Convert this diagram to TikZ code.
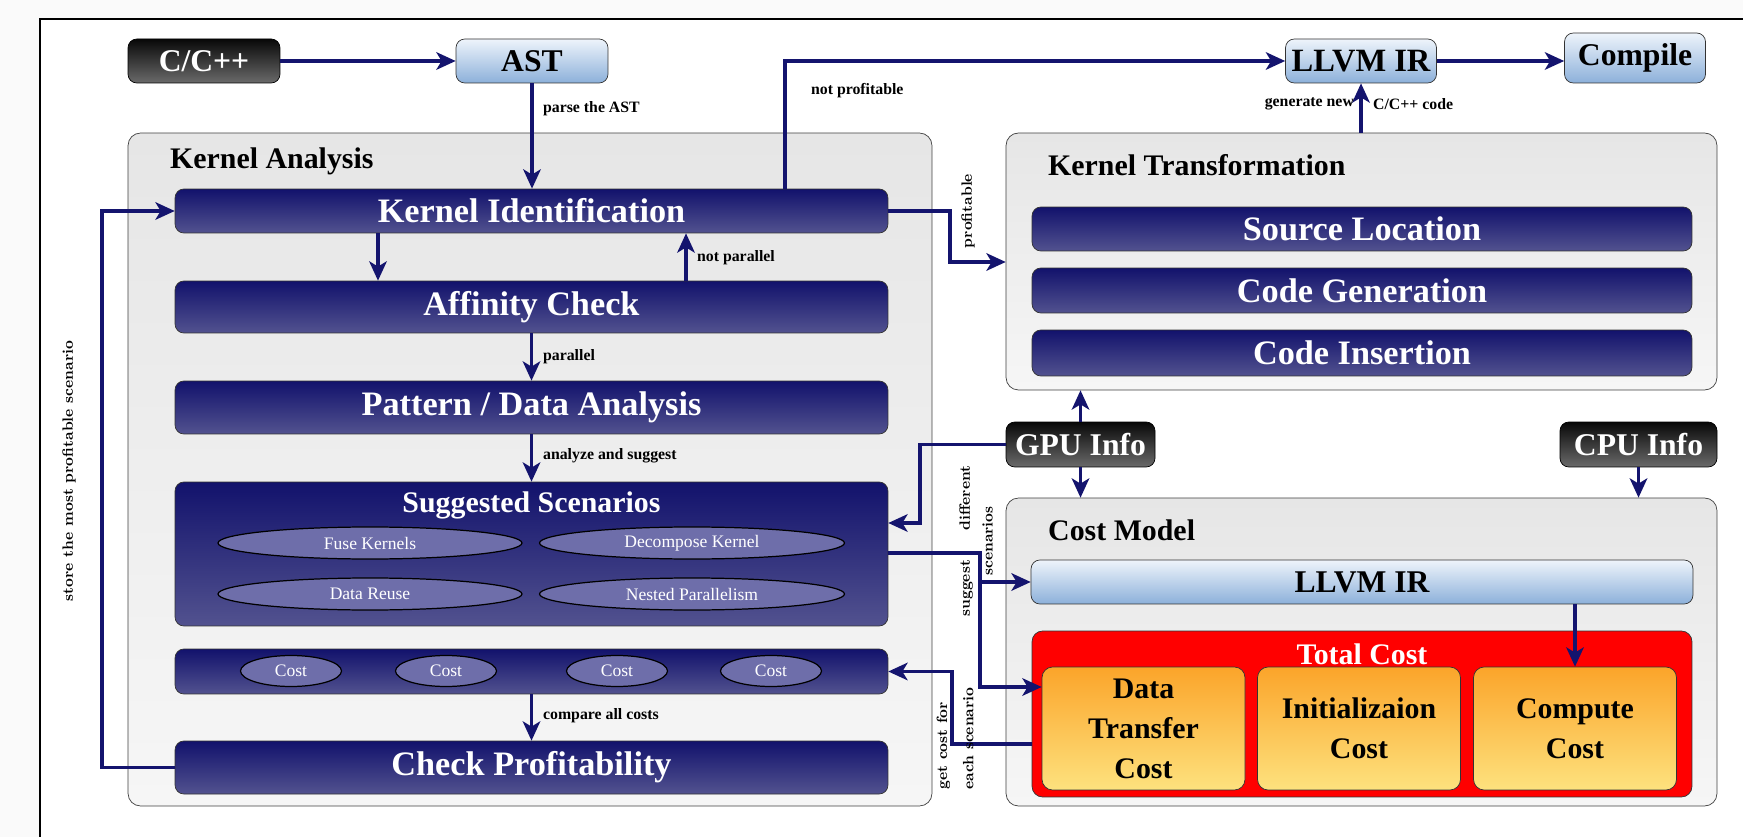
\documentclass[tikz,border=0pt]{standalone}
\usepackage{fontspec}
\usetikzlibrary{arrows.meta,shapes.geometric}
\newfontfamily\libfont{Liberation Serif}

\definecolor{navyT}{HTML}{12126C}
\definecolor{navyB}{HTML}{52528F}
\definecolor{arrowblue}{HTML}{14146E}
\definecolor{skyT}{HTML}{EEF4FB}
\definecolor{skyB}{HTML}{8CB0DA}
\definecolor{darkT}{HTML}{080808}
\definecolor{darkB}{HTML}{6A6A6A}
\definecolor{paneT}{HTML}{E6E6E6}
\definecolor{paneB}{HTML}{F6F6F6}
\definecolor{optfill}{HTML}{6E6EAA}
\definecolor{orangeT}{HTML}{FBA42A}
\definecolor{orangeB}{HTML}{FDE27E}

\tikzset{
  pane/.style={draw=black!75, rounded corners=7pt, top color=paneT, bottom color=paneB, inner sep=0pt},
  bar/.style={draw=black!80, rounded corners=5pt, top color=navyT, bottom color=navyB,
    text=white, inner sep=0pt, font=\libfont\bfseries\fontsize{19.5}{22}\selectfont},
  sky/.style={draw=black!80, rounded corners=5pt, top color=skyT, bottom color=skyB,
    inner sep=0pt, font=\libfont\bfseries\fontsize{18}{20}\selectfont},
  dark/.style={draw=black, rounded corners=5pt, top color=darkT, bottom color=darkB,
    text=white, inner sep=0pt, font=\libfont\bfseries\fontsize{18}{20}\selectfont},
  opt/.style={ellipse, draw=black, line width=0.7pt, fill=optfill, text=white, inner sep=0pt,
    font=\libfont\fontsize{10}{12}\selectfont},
  costpart/.style={draw=black!80, rounded corners=6pt, top color=orangeT, bottom color=orangeB,
    inner sep=0pt, align=center, minimum width=4.06cm, minimum height=2.46cm,
    font=\libfont\bfseries\fontsize{17}{22.7}\selectfont},
  title/.style={anchor=west, font=\libfont\bfseries\fontsize{17}{19}\selectfont},
  lbl/.style={font=\libfont\bfseries\fontsize{9}{11}\selectfont, inner sep=1pt},
  vlbl/.style={rotate=90, align=center, font=\bfseries\fontsize{8.5}{13}\selectfont, inner sep=0pt},
  arr/.style={arrowblue, line width=1.8pt, -{Stealth[length=11pt,width=10pt,inset=3pt]}}
}

\begin{document}
\begin{tikzpicture}[x=0.02cm, y=-0.02cm]
\useasboundingbox (0,0) rectangle (1743,837);
\clip (0,0) rectangle (1743,837);
\fill[gray!4] (0,0) rectangle (1743,837);
\draw[fill=white, line width=0.7pt] (40,19) rectangle (1780,880);

% top row
\node[dark, minimum width=3.04cm, minimum height=0.88cm] (cpp) at (204,61) {C/C++};
\node[sky, minimum width=3.04cm, minimum height=0.88cm] (ast) at (532,61) {AST};
\node[sky, minimum width=3.02cm, minimum height=0.88cm, font=\libfont\bfseries\fontsize{18.5}{20}\selectfont] (llvm) at (1361,61) {LLVM IR};
\node[sky, minimum width=2.82cm, minimum height=1.0cm] (compile) at (1635,58) {Compile};

% panes
\node[pane, minimum width=16.08cm, minimum height=13.46cm] (ka) at (530,469.5) {};
\node[pane, minimum width=14.22cm, minimum height=5.14cm] (kt) at (1361.5,261.5) {};
\node[pane, minimum width=14.22cm, minimum height=6.16cm] (cm) at (1361.5,652) {};
\node[title] (kat) at (164,161) {Kernel Analysis};
\node[title] (ktt) at (1042,165) {Kernel Transformation};
\node[title] (cmt) at (1042,530) {Cost Model};

% kernel analysis
\node[bar, minimum width=14.26cm, minimum height=0.88cm] (kid) at (531.5,211) {Kernel Identification};
\node[bar, minimum width=14.26cm, minimum height=1.04cm] (aff) at (531.5,307) {Affinity Check};
\node[bar, minimum width=14.26cm, minimum height=1.06cm] (pda) at (531.5,407.5) {Pattern / Data Analysis};
\node[bar, minimum width=14.26cm, minimum height=2.88cm] (sugg) at (531.5,554) {};
\node[bar, minimum width=14.26cm, minimum height=0.9cm] (costbar) at (531.5,671.5) {};
\node[bar, minimum width=14.26cm, minimum height=1.06cm] (chk) at (531.5,767.5) {Check Profitability};
\node[text=white, font=\libfont\bfseries\fontsize{17}{20}\selectfont] (sst) at (531.5,505) {Suggested Scenarios};
\node[opt, minimum width=6.08cm, minimum height=0.64cm] (fk) at (370,543) {Fuse Kernels};
\node[opt, minimum width=6.1cm, minimum height=0.64cm] (dk) at (692,543) {Decompose Kernel};
\node[opt, minimum width=6.08cm, minimum height=0.64cm] (dr) at (370,594) {Data Reuse};
\node[opt, minimum width=6.1cm, minimum height=0.64cm] (np) at (692,594) {Nested Parallelism};
\foreach \x [count=\i] in {291,446,617,771}
  \node[opt, minimum width=2.02cm, minimum height=0.62cm] (c\i) at (\x,671) {Cost};

% kernel transformation
\node[bar, minimum width=13.2cm, minimum height=0.88cm] (src) at (1362,229) {Source Location};
\node[bar, minimum width=13.2cm, minimum height=0.9cm] (gen) at (1362,290.5) {Code Generation};
\node[bar, minimum width=13.2cm, minimum height=0.92cm] (ins) at (1362,353) {Code Insertion};

% info
\node[dark, minimum width=2.98cm, minimum height=0.9cm] (gpu) at (1080.5,444.5) {GPU Info};
\node[dark, minimum width=3.14cm, minimum height=0.9cm] (cpu) at (1638.5,444.5) {CPU Info};

% cost model
\node[sky, minimum width=13.24cm, minimum height=0.88cm] (ir) at (1362,582) {LLVM IR};
\node[draw=black!80, fill=red, rounded corners=6pt, minimum width=13.2cm, minimum height=3.32cm] (total) at (1362,714) {};
\node[text=white, font=\libfont\bfseries\fontsize{17}{20}\selectfont] (tct) at (1362,654) {Total Cost};
\node[costpart] (dt) at (1143.5,728.5) {Data\\Transfer\\Cost};
\node[costpart] (ini) at (1359,728.5) {Initializaion\\Cost};
\node[costpart] (comp) at (1575,728.5) {Compute\\Cost};

% routing points
\coordinate (npx) at (785,0);
\coordinate (kdx) at (378,0);
\coordinate (kux) at (686,0);
\coordinate (lp) at (102,0);
\coordinate (pf) at (950,262);
\coordinate (gs) at (920,523);
\coordinate (sx) at (980,553);
\coordinate (sd) at (980,687);
\coordinate (gc) at (952,744);

% connectors
\draw[arr] (cpp) -- (ast);
\draw[arr] (ast.south) -- (ast.south |- kid.north);
\draw[arr] (kid.north -| npx) |- (llvm);
\draw[arr] (llvm) -- (compile.west |- llvm);
\draw[arr] (kt.north -| llvm) -- (llvm.south);
\draw[arr] (kid.south -| kdx) -- (aff.north -| kdx);
\draw[arr] (aff.north -| kux) -- (kid.south -| kux);
\draw[arr] (aff) -- (pda);
\draw[arr] (pda) -- (sugg);
\draw[arr] (costbar) -- (chk);
\draw[arr] (chk.west) -| (lp |- kid.west) -- (kid.west);
\draw[arr] (kid.east) -| (pf) -- (pf -| kt.west);
\draw[arr] (gpu.north) -- (gpu.north |- kt.south);
\draw[arr] (gpu.south) -- (gpu.south |- cm.north);
\draw[arr] (cpu.south) -- (cpu.south |- cm.north);
\draw[arr] (gpu.west) -| (gs) -- (gs -| sugg.east);
\draw[arr] (sugg.east |- sx) -| (sd) -- (sd -| dt.west);
\draw[arr] (sx) |- (ir.west);
\draw[arr] (total.west |- gc) -- (gc) |- (costbar.east);
\draw[arr] (ir.south -| comp) -- (comp.north);

% labels
\node[lbl, anchor=west] (l1) at (541,109) {parse the AST};
\node[lbl, anchor=west] (l2) at (809,91) {not profitable};
\node[lbl, anchor=east] (l3) at (1356,104) {generate new};
\node[lbl, anchor=west] (l4) at (1371,104) {C/C++ code};
\node[lbl, anchor=west] (l5) at (695,258) {not parallel};
\node[lbl, anchor=west] (l6) at (541,357) {parallel};
\node[lbl, anchor=west] (l7) at (541,456) {analyze and suggest};
\node[lbl, anchor=west] (l8) at (541,716) {compare all costs};
\node[vlbl] (l9) at (69,471) {store the most profitable scenario};
\node[vlbl] (l10) at (968,211) {profitable};
\node[vlbl] (l11) at (976,541) {suggest\qquad different\\scenarios};
\node[vlbl, align=left, anchor=west, font=\bfseries\fontsize{8.5}{15}\selectfont] (l12) at (955,790) {get cost for\\each scenario};
\end{tikzpicture}
\end{document}
